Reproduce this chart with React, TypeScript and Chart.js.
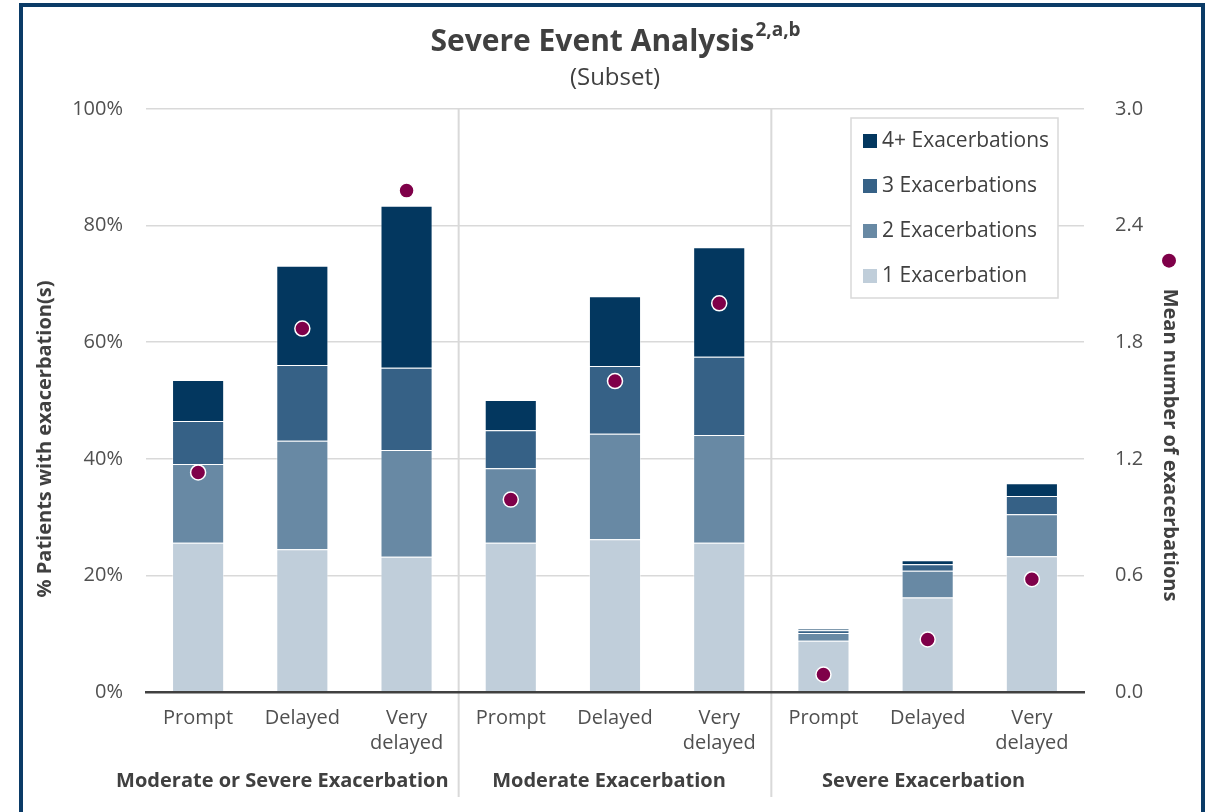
import React, { useEffect, useRef } from "react";
import { Chart, registerables } from "chart.js";

Chart.register(...registerables);

// Timing categories, three per exacerbation group
const categories: (string | string[])[] = [
  "Prompt", "Delayed", ["Very", "delayed"],
  "Prompt", "Delayed", ["Very", "delayed"],
  "Prompt", "Delayed", ["Very", "delayed"],
];

const groupNames = [
  "Moderate or Severe Exacerbation",
  "Moderate Exacerbation",
  "Severe Exacerbation",
];

// % of patients, by number of exacerbations (stacked)
const oneExacerbation = [25.6, 24.5, 23.2, 25.6, 26.2, 25.6, 8.8, 16.2, 23.3];
const twoExacerbations = [13.5, 18.6, 18.3, 12.8, 18.1, 18.5, 1.3, 4.6, 7.2];
const threeExacerbations = [7.4, 13.0, 14.1, 6.5, 11.6, 13.4, 0.5, 1.1, 3.1];
const fourPlusExacerbations = [7.0, 17.0, 27.8, 5.2, 12.0, 18.8, 0.2, 0.7, 2.2];

// Mean number of exacerbations (right axis)
const meanExacerbations = [1.13, 1.87, 2.58, 0.99, 1.6, 2.0, 0.09, 0.27, 0.58];

const seriesNames = ["1 Exacerbation", "2 Exacerbations", "3 Exacerbations", "4+ Exacerbations"];
const seriesColors = ["#C0CEDA", "#6889A4", "#366186", "#03375F"];
const meanColor = "#7F0049";

const FONT = '"Open Sans", sans-serif';
const DARK = "#404040";
const TICK = "#505050";

const decorations = {
  id: "decorations",
  beforeDatasetsDraw(chart: any) {
    const { ctx, chartArea, scales } = chart;
    const xs = scales.x;
    ctx.save();
    ctx.strokeStyle = "#D9D9D9";
    ctx.lineWidth = 2;
    for (let g = 1; g < groupNames.length; g++) {
      const i = g * 3;
      const px = (xs.getPixelForValue(i - 1) + xs.getPixelForValue(i)) / 2;
      ctx.beginPath();
      ctx.moveTo(px, chartArea.top);
      ctx.lineTo(px, chart.height - 15);
      ctx.stroke();
    }
    ctx.restore();
  },
  afterDraw(chart: any) {
    const { ctx, chartArea, scales } = chart;
    const xs = scales.x;
    ctx.save();

    // Title with superscript, centred over the plot area
    const cx = (chartArea.left + chartArea.right) / 2;
    const main = "Severe Event Analysis";
    const sup = "2,a,b";
    ctx.font = `bold 30px ${FONT}`;
    const wMain = ctx.measureText(main).width;
    ctx.font = `bold 19px ${FONT}`;
    const wSup = ctx.measureText(sup).width;
    const startX = cx - (wMain + wSup) / 2;
    ctx.fillStyle = DARK;
    ctx.textBaseline = "middle";
    ctx.textAlign = "left";
    ctx.font = `bold 30px ${FONT}`;
    ctx.fillText(main, startX, 42);
    ctx.font = `bold 19px ${FONT}`;
    ctx.fillText(sup, startX + wMain + 1, 31);
    ctx.textAlign = "center";
    ctx.font = `24px ${FONT}`;
    ctx.fillText("(Subset)", cx, 78);

    // Group labels under the timing labels
    const offsets = [-20, -6, -4];
    ctx.font = `bold 20px ${FONT}`;
    groupNames.forEach((name, g) => {
      const px = xs.getPixelForValue(g * 3 + 1) + offsets[g];
      ctx.fillText(name, px, chart.height - 31);
    });

    // Left axis title
    ctx.save();
    ctx.translate(45, 439);
    ctx.rotate(-Math.PI / 2);
    ctx.font = `bold 20px ${FONT}`;
    ctx.fillText("% Patients with exacerbation(s)", 0, 0);
    ctx.restore();

    // Right axis title with its marker
    const rightTitle = "Mean number of exacerbations";
    ctx.font = `bold 20px ${FONT}`;
    const wr = ctx.measureText(rightTitle).width;
    const rx = 1170;
    const ry = 445;
    ctx.save();
    ctx.translate(rx, ry);
    ctx.rotate(Math.PI / 2);
    ctx.fillText(rightTitle, 0, 0);
    ctx.restore();
    ctx.beginPath();
    ctx.arc(rx - 1, ry - wr / 2 - 28, 7, 0, Math.PI * 2);
    ctx.fillStyle = meanColor;
    ctx.fill();

    // Legend box inside the plot area, top right
    const bw = 207;
    const bh = 180;
    const bx = chartArea.right - 26 - bw;
    const by = chartArea.top + 9;
    ctx.fillStyle = "#FFFFFF";
    ctx.fillRect(bx, by, bw, bh);
    ctx.strokeStyle = "#D9D9D9";
    ctx.lineWidth = 1.5;
    ctx.strokeRect(bx, by, bw, bh);
    ctx.font = `21px ${FONT}`;
    ctx.textAlign = "left";
    ctx.textBaseline = "middle";
    const ds = chart.data.datasets.filter((d: any) => d.type === "bar").slice().reverse();
    ds.forEach((d: any, i: number) => {
      const iy = by + 23 + i * 45;
      ctx.fillStyle = d.backgroundColor;
      ctx.fillRect(bx + 12, iy - 7, 14, 14);
      ctx.fillStyle = DARK;
      ctx.fillText(d.label, bx + 31, iy);
    });

    ctx.restore();
  },
};

export default function App() {
  const canvasRef = useRef<HTMLCanvasElement | null>(null);

  useEffect(() => {
    const canvas = canvasRef.current;
    if (!canvas) return;
    const barSeries = [oneExacerbation, twoExacerbations, threeExacerbations, fourPlusExacerbations];
    const chart = new Chart(canvas, {
      type: "bar",
      data: {
        labels: categories,
        datasets: [
          {
            type: "line",
            label: "Mean number of exacerbations",
            data: meanExacerbations,
            yAxisID: "y1",
            showLine: false,
            pointRadius: 7.5,
            pointBackgroundColor: meanColor,
            pointBorderColor: "#FFFFFF",
            pointBorderWidth: 1.5,
            order: 0,
          } as any,
          ...barSeries.map((values, i) => ({
            type: "bar" as const,
            label: seriesNames[i],
            data: values,
            yAxisID: "y",
            backgroundColor: seriesColors[i],
            borderColor: "rgba(255,255,255,0.45)",
            borderWidth: 1,
            barPercentage: 0.5,
            categoryPercentage: 1,
            order: 1,
          })),
        ],
      },
      options: {
        responsive: false,
        animation: false,
        layout: { padding: { top: 109, left: 0, right: 0, bottom: 0 } },
        plugins: {
          legend: { display: false },
          title: { display: false },
          tooltip: { enabled: false },
        },
        scales: {
          x: {
            stacked: true,
            grid: { display: false },
            border: { display: true, color: DARK, width: 2.5, z: 1 },
            ticks: {
              color: TICK,
              font: { family: FONT, size: 20, lineHeight: 1.25 },
              padding: 6,
              maxRotation: 0,
              autoSkip: false,
            },
            afterFit: (s: any) => {
              s.height = 120;
            },
          },
          y: {
            stacked: true,
            min: 0,
            max: 100,
            grid: { color: "#D9D9D9", lineWidth: 1.5, drawTicks: false },
            border: { display: false },
            ticks: {
              stepSize: 20,
              color: TICK,
              padding: 23,
              font: { family: FONT, size: 20 },
              callback: (v: any) => `${v}%`,
            },
            afterFit: (s: any) => {
              s.width = 146;
            },
          },
          y1: {
            position: "right",
            min: 0,
            max: 3,
            grid: { display: false },
            border: { display: false },
            ticks: {
              stepSize: 0.6,
              color: TICK,
              padding: 23,
              font: { family: FONT, size: 20 },
              callback: (v: any) => Number(v).toFixed(1),
            },
            afterFit: (s: any) => {
              s.width = 127;
            },
          },
        },
      } as any,
      plugins: [decorations],
    });
    return () => chart.destroy();
  }, []);

  return (
    <div style={{ position: "fixed", left: 0, top: 0, width: 1211, height: 812, overflow: "hidden", background: "#FFFFFF" }}>
      <div
        style={{
          position: "absolute",
          left: 19,
          top: 3,
          width: 1186,
          height: 900,
          boxSizing: "border-box",
          border: "4.5px solid #0B3B67",
        }}
      />
      <canvas ref={canvasRef} width={1211} height={812} style={{ position: "absolute", left: 0, top: 0 }} />
    </div>
  );
}
